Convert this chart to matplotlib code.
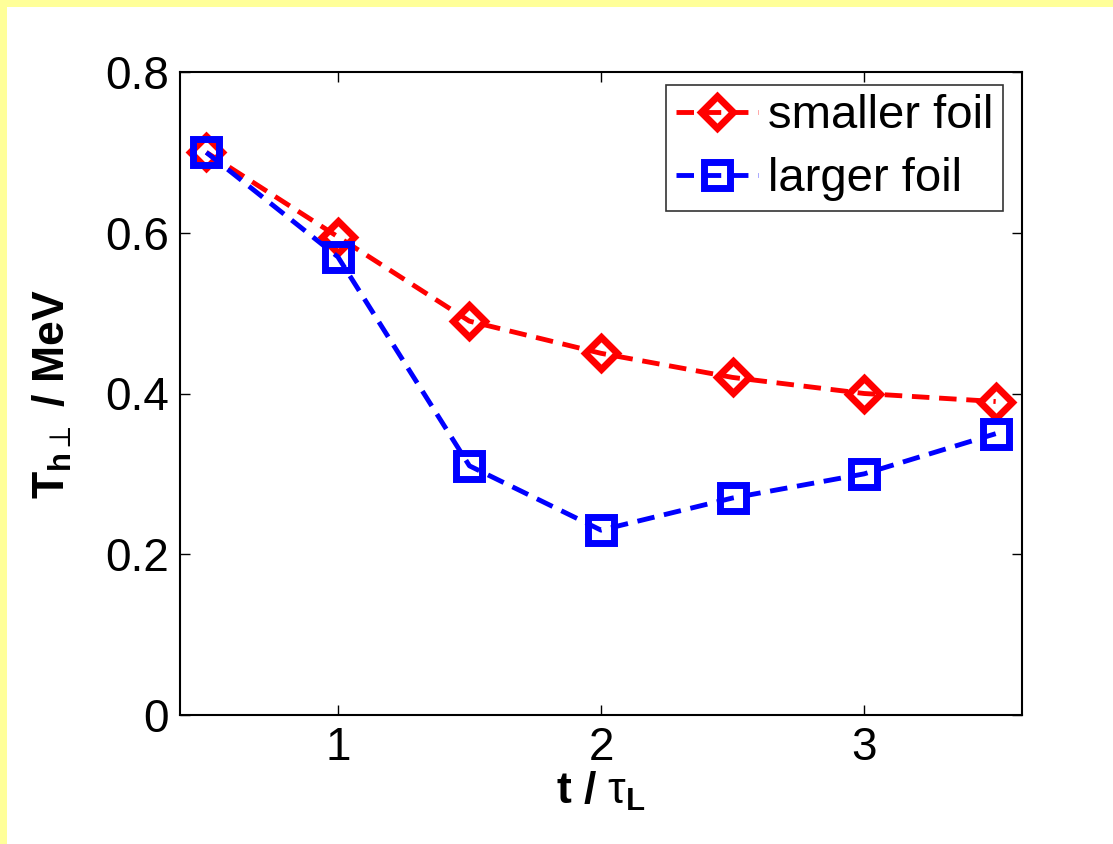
import numpy as np
import matplotlib.pyplot as plt
from matplotlib.patches import Rectangle

plt.rcParams['font.family'] = ['Liberation Sans', 'DejaVu Sans']
plt.rcParams['mathtext.fontset'] = 'custom'
plt.rcParams['mathtext.rm'] = 'Liberation Sans'
plt.rcParams['mathtext.bf'] = 'Liberation Sans:bold'
plt.rcParams['mathtext.it'] = 'Liberation Sans:italic'
plt.rcParams['mathtext.default'] = 'regular'
plt.rcParams['mathtext.fallback'] = 'stixsans'

t = [0.5, 1.0, 1.5, 2.0, 2.5, 3.0, 3.5]
smaller_foil = [0.70, 0.595, 0.49, 0.45, 0.42, 0.40, 0.39]
larger_foil = [0.70, 0.57, 0.31, 0.23, 0.27, 0.30, 0.35]
xticks = [1, 2, 3]
yticks = [0, 0.2, 0.4, 0.6, 0.8]

fig = plt.figure(figsize=(11.13, 8.44), dpi=100)
fig.patch.set_facecolor('#ffff99')
fig.patches.append(Rectangle((7 / 1113, 0), 1, 1 - 7 / 844, transform=fig.transFigure,
                             facecolor='white', edgecolor='none', zorder=-1))

ax = fig.add_axes([180 / 1113, 1 - 715 / 844, 842 / 1113, 643 / 844])
dash = (0, (3.6, 2.0))
ax.plot(t, smaller_foil, color='red', linestyle=dash, linewidth=3.5, marker='D',
        markersize=16, markerfacecolor='none', markeredgewidth=5, label='smaller foil')
ax.plot(t, larger_foil, color='blue', linestyle=dash, linewidth=3.5, marker='s',
        markersize=19, markerfacecolor='none', markeredgewidth=5, label='larger foil')

ax.set_xlim(0.4, 3.6)
ax.set_ylim(0, 0.8)
ax.set_xticks(xticks)
ax.set_yticks(yticks)
ax.set_yticklabels(['0', '0.2', '0.4', '0.6', '0.8'])
ax.tick_params(direction='in', length=7, width=1, labelsize=33, top=True, right=True, pad=8)
for s in ax.spines.values():
    s.set_linewidth(1.5)

ax.set_xlabel(r't / $\mathrm{\tau}_{\mathbf{L}}$', fontsize=32, fontweight='bold', labelpad=0)
ax.set_ylabel(r'$\mathbf{T}_{\mathbf{h}\perp}$ / MeV', fontsize=32, fontweight='bold', labelpad=22)

leg = ax.legend(loc='upper right', fontsize=34, frameon=True, fancybox=False,
                edgecolor='black', handlelength=1.75, handletextpad=0.2,
                borderpad=0.2, labelspacing=0.4, borderaxespad=0,
                bbox_to_anchor=(0.977, 0.98))
leg.get_frame().set_linewidth(1.2)

fig.savefig('out.png', dpi=100, facecolor=fig.get_facecolor())
